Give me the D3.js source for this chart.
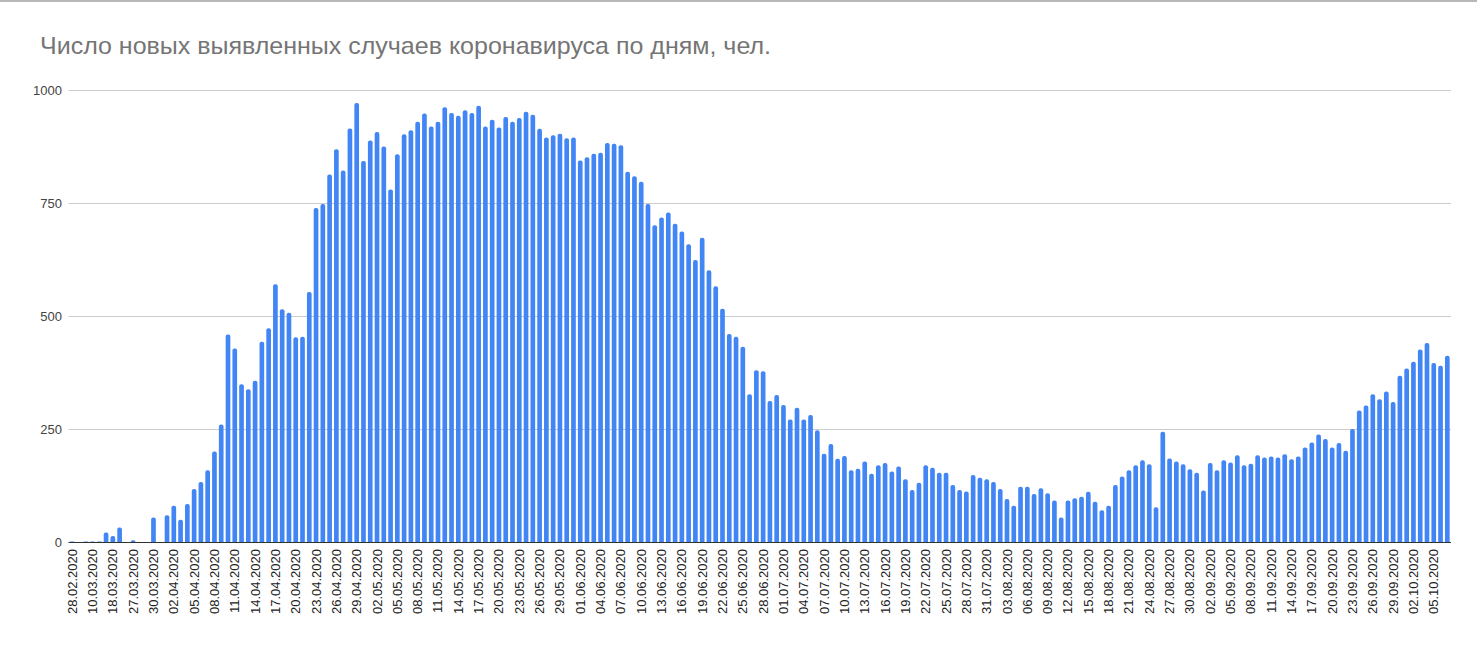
<!DOCTYPE html>
<html>
<head>
<meta charset="utf-8">
<script src="https://cdnjs.cloudflare.com/ajax/libs/d3/7.8.5/d3.min.js"></script>
<style>
  html, body { margin: 0; padding: 0; background: #fff; }
  svg { display: block; }
</style>
</head>
<body>
<svg id="chart" width="1477" height="657"></svg>
<script>
const title = "Число новых выявленных случаев коронавируса по дням, чел.";

const preDates = ["28.02.2020","03.03.2020","06.03.2020","10.03.2020","13.03.2020","16.03.2020",
                  "18.03.2020","21.03.2020","24.03.2020"];
const startDate = "27.03.2020";
const dayCount = 195; // 27.03.2020 .. 08.10.2020

const values = [
  1, 0, 1, 1, 1, 21, 13, 32, 0, 4,
  0, 0, 54, 0, 59, 80, 49, 84, 117, 133,
  159, 200, 260, 459, 428, 349, 338, 357, 443, 473,
  570, 515, 507, 453, 454, 553, 739, 748, 813, 869,
  822, 915, 971, 843, 888, 907, 875, 780, 858, 902,
  911, 930, 948, 919, 930, 962, 949, 943, 955, 949,
  965, 919, 934, 917, 940, 930, 938, 952, 945, 914,
  895, 900, 903, 893, 895, 844, 851, 859, 861, 883,
  881, 878, 819, 809, 797, 748, 701, 718, 729, 704,
  687, 659, 624, 673, 601, 566, 516, 460, 454, 432,
  327, 380, 378, 312, 325, 303, 271, 297, 271, 281,
  247, 195, 217, 184, 190, 159, 162, 178, 151, 170,
  175, 156, 167, 139, 115, 131, 170, 164, 153, 153,
  126, 115, 112, 148, 142, 139, 133, 117, 95, 80,
  122, 122, 106, 119, 108, 92, 54, 92, 97, 100,
  111, 89, 70, 80, 126, 145, 159, 170, 181, 172,
  77, 244, 185, 178, 172, 161, 153, 114, 175, 159,
  181, 176, 192, 170, 173, 192, 187, 189, 187, 194,
  183, 189, 209, 220, 238, 228, 209, 219, 202, 250,
  291, 302, 327, 316, 333, 310, 368, 384, 399, 426,
  440, 396, 390, 412
];

const yTicks = [0, 250, 500, 750, 1000];

(function () {
  const fmt = d3.timeFormat("%d.%m.%Y");
  const parse = d3.timeParse("%d.%m.%Y");
  const categories = preDates.slice();
  const s = parse(startDate);
  for (let i = 0; i < dayCount; i++) categories.push(fmt(d3.timeDay.offset(s, i)));
  const data = categories.map((c, i) => ({ date: c, value: values[i] }));

  const svg = d3.select("#chart");
  const pLeft = 68.5, pRight = 1451, pTop = 90, pBottom = 542;

  svg.append("line").attr("x1", 0).attr("x2", 1477).attr("y1", 1).attr("y2", 1)
    .attr("stroke", "#a0a0a0").attr("stroke-width", 1.5);

  svg.append("text")
    .attr("x", 40).attr("y", 54)
    .attr("font-family", "Liberation Sans, Arial, sans-serif")
    .attr("font-size", 24)
    .attr("fill", "#757575")
    .attr("textLength", 731)
    .attr("lengthAdjust", "spacingAndGlyphs")
    .text(title);

  const x = d3.scaleBand().domain(categories).range([pLeft, pRight])
    .paddingInner(0.31).paddingOuter(0.2);
  const y = d3.scaleLinear().domain([0, 1000]).range([pBottom, pTop]);

  svg.append("g").selectAll("line").data(yTicks.filter(t => t > 0)).join("line")
    .attr("x1", pLeft).attr("x2", pRight)
    .attr("y1", d => Math.round(y(d)) + 0.5).attr("y2", d => Math.round(y(d)) + 0.5)
    .attr("stroke", "#cccccc").attr("stroke-width", 1);

  svg.append("g").selectAll("text").data(yTicks).join("text")
    .attr("x", 62).attr("y", d => y(d) + 4.5)
    .attr("text-anchor", "end")
    .attr("font-family", "Liberation Sans, Arial, sans-serif")
    .attr("font-size", 13)
    .attr("fill", "#444")
    .text(d => d);

  const bw = x.bandwidth();
  const r = Math.min(2, bw / 2);
  svg.append("g").selectAll("path").data(data).join("path")
    .attr("fill", "#4285f4")
    .attr("d", d => {
      if (d.value <= 0) return "";
      const x0 = x(d.date), x1 = x0 + bw;
      const yt = y(d.value), yb = y(0);
      const h = yb - yt;
      const rr = Math.min(r, h);
      return `M${x0},${yb} L${x0},${yt + rr} Q${x0},${yt} ${x0 + rr},${yt} L${x1 - rr},${yt} Q${x1},${yt} ${x1},${yt + rr} L${x1},${yb} Z`;
    });

  svg.append("line").attr("x1", pLeft).attr("x2", pRight)
    .attr("y1", pBottom + 0.5).attr("y2", pBottom + 0.5)
    .attr("stroke", "#333").attr("stroke-width", 1);

  svg.append("g").selectAll("text").data(categories.filter((c, i) => i % 3 === 0)).join("text")
    .attr("transform", d => `translate(${x(d) + bw / 2 + 4.5},${pBottom + 7}) rotate(-90)`)
    .attr("text-anchor", "end")
    .attr("font-family", "Liberation Sans, Arial, sans-serif")
    .attr("font-size", 13)
    .attr("fill", "#222")
    .text(d => d);
})();
</script>
</body>
</html>
